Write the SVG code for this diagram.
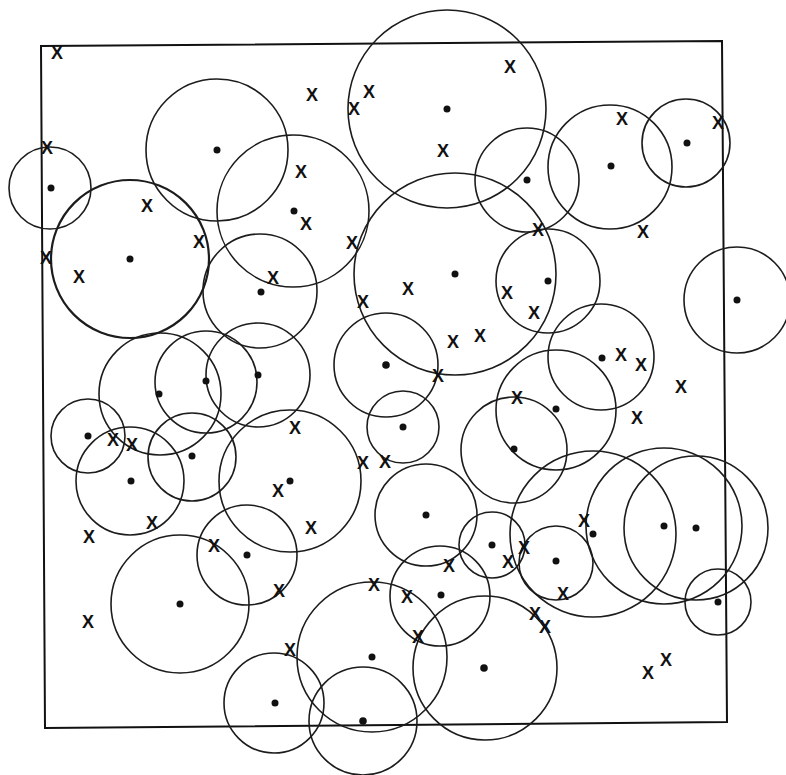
<svg xmlns="http://www.w3.org/2000/svg" width="786" height="775" viewBox="0 0 786 775">
<style>
.c{fill:none;stroke:#1c1c1c;stroke-width:1.6}
.t{stroke-width:2.2}
.d{fill:#111}
.x{font-family:"Liberation Sans",Arial,sans-serif;font-size:18px;font-weight:bold;text-anchor:middle;fill:#111}
</style>
<rect width="786" height="775" fill="#fff"/>
<polygon id="frame" points="41,46 722,41 727,722 45,728" fill="none" stroke="#111" stroke-width="2"/>
<g id="circles">
<circle class="c" cx="50" cy="188" r="41"/>
<circle class="c t" cx="130" cy="259" r="79"/>
<circle class="c" cx="217" cy="150" r="71"/>
<circle class="c" cx="293" cy="211" r="76"/>
<circle class="c" cx="260" cy="291" r="57"/>
<circle class="c" cx="447" cy="109" r="99"/>
<circle class="c" cx="527" cy="180" r="52"/>
<circle class="c" cx="610" cy="167" r="62"/>
<circle class="c" cx="686" cy="143" r="44"/>
<circle class="c" cx="737" cy="300" r="53"/>
<circle class="c" cx="455" cy="274" r="101"/>
<circle class="c" cx="548" cy="281" r="52"/>
<circle class="c" cx="601" cy="357" r="53"/>
<circle class="c" cx="160" cy="394" r="61"/>
<circle class="c" cx="206" cy="382" r="51"/>
<circle class="c" cx="258" cy="375" r="52"/>
<circle class="c" cx="386" cy="365" r="52"/>
<circle class="c" cx="403" cy="427" r="36"/>
<circle class="c" cx="88" cy="436" r="37"/>
<circle class="c" cx="130" cy="481" r="54"/>
<circle class="c" cx="192" cy="457" r="44"/>
<circle class="c" cx="290" cy="481" r="71"/>
<circle class="c" cx="247" cy="555" r="50"/>
<circle class="c" cx="180" cy="604" r="69"/>
<circle class="c" cx="274" cy="703" r="50"/>
<circle class="c" cx="372" cy="657" r="75"/>
<circle class="c" cx="363" cy="721" r="54"/>
<circle class="c" cx="514" cy="450" r="53"/>
<circle class="c" cx="556" cy="410" r="60"/>
<circle class="c" cx="426" cy="515" r="51"/>
<circle class="c" cx="492" cy="545" r="33"/>
<circle class="c" cx="440" cy="596" r="50"/>
<circle class="c" cx="485" cy="668" r="72"/>
<circle class="c" cx="556" cy="563" r="37"/>
<circle class="c" cx="593" cy="534" r="83"/>
<circle class="c" cx="664" cy="526" r="78"/>
<circle class="c" cx="696" cy="528" r="72"/>
<circle class="c" cx="718" cy="602" r="33"/>
</g>
<g id="dots">
<circle class="d" cx="51" cy="188" r="3.5"/>
<circle class="d" cx="130" cy="259" r="3.5"/>
<circle class="d" cx="217" cy="150" r="3.5"/>
<circle class="d" cx="294" cy="211" r="3.5"/>
<circle class="d" cx="261" cy="292" r="3.5"/>
<circle class="d" cx="447" cy="109" r="3.5"/>
<circle class="d" cx="527" cy="180" r="3.5"/>
<circle class="d" cx="611" cy="166" r="3.5"/>
<circle class="d" cx="687" cy="143" r="3.5"/>
<circle class="d" cx="737" cy="300" r="3.5"/>
<circle class="d" cx="455" cy="274" r="3.5"/>
<circle class="d" cx="548" cy="281" r="3.5"/>
<circle class="d" cx="602" cy="358" r="3.5"/>
<circle class="d" cx="159" cy="394" r="3.5"/>
<circle class="d" cx="206" cy="381" r="3.5"/>
<circle class="d" cx="258" cy="375" r="3.5"/>
<circle class="d" cx="386" cy="365" r="3.8"/>
<circle class="d" cx="403" cy="427" r="3.5"/>
<circle class="d" cx="88" cy="436" r="3.5"/>
<circle class="d" cx="131" cy="481" r="3.5"/>
<circle class="d" cx="192" cy="456" r="3.5"/>
<circle class="d" cx="290" cy="481" r="3.5"/>
<circle class="d" cx="247" cy="555" r="3.5"/>
<circle class="d" cx="180" cy="604" r="3.5"/>
<circle class="d" cx="275" cy="703" r="3.5"/>
<circle class="d" cx="372" cy="657" r="3.5"/>
<circle class="d" cx="363" cy="721" r="3.8"/>
<circle class="d" cx="514" cy="449" r="3.5"/>
<circle class="d" cx="556" cy="409" r="3.5"/>
<circle class="d" cx="426" cy="515" r="3.5"/>
<circle class="d" cx="492" cy="545" r="3.5"/>
<circle class="d" cx="441" cy="595" r="3.5"/>
<circle class="d" cx="484" cy="668" r="3.8"/>
<circle class="d" cx="556" cy="561" r="3.5"/>
<circle class="d" cx="593" cy="534" r="3.5"/>
<circle class="d" cx="664" cy="526" r="3.5"/>
<circle class="d" cx="696" cy="528" r="3.5"/>
<circle class="d" cx="718" cy="602" r="3.5"/>
</g>
<g id="marks" class="x">
<text x="57" y="59">X</text>
<text x="312" y="101">X</text>
<text x="369" y="98">X</text>
<text x="354" y="115">X</text>
<text x="510" y="73">X</text>
<text x="443" y="157">X</text>
<text x="622" y="125">X</text>
<text x="718" y="129">X</text>
<text x="47" y="154">X</text>
<text x="147" y="212">X</text>
<text x="199" y="248">X</text>
<text x="46" y="264">X</text>
<text x="79" y="283">X</text>
<text x="301" y="178">X</text>
<text x="306" y="230">X</text>
<text x="352" y="249">X</text>
<text x="273" y="284">X</text>
<text x="363" y="308">X</text>
<text x="643" y="238">X</text>
<text x="538" y="236">X</text>
<text x="408" y="295">X</text>
<text x="507" y="299">X</text>
<text x="534" y="319">X</text>
<text x="453" y="348">X</text>
<text x="480" y="342">X</text>
<text x="438" y="382">X</text>
<text x="621" y="361">X</text>
<text x="641" y="371">X</text>
<text x="681" y="393">X</text>
<text x="113" y="446">X</text>
<text x="132" y="451">X</text>
<text x="295" y="434">X</text>
<text x="363" y="469">X</text>
<text x="385" y="468">X</text>
<text x="278" y="497">X</text>
<text x="311" y="534">X</text>
<text x="152" y="529">X</text>
<text x="89" y="543">X</text>
<text x="214" y="552">X</text>
<text x="279" y="597">X</text>
<text x="88" y="628">X</text>
<text x="374" y="591">X</text>
<text x="290" y="656">X</text>
<text x="517" y="404">X</text>
<text x="637" y="424">X</text>
<text x="449" y="572">X</text>
<text x="407" y="603">X</text>
<text x="418" y="643">X</text>
<text x="508" y="568">X</text>
<text x="524" y="554">X</text>
<text x="584" y="527">X</text>
<text x="563" y="600">X</text>
<text x="535" y="620">X</text>
<text x="545" y="633">X</text>
<text x="648" y="679">X</text>
<text x="666" y="666">X</text>
</g>
</svg>
